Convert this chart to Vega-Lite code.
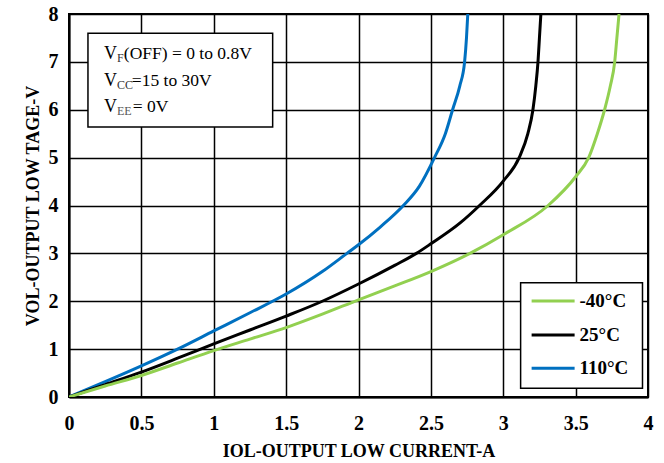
{
  "$schema": "https://vega.github.io/schema/vega-lite/v6.json",
  "width": 579,
  "height": 383,
  "autosize": {"type": "none"},
  "padding": {"left": 69, "top": 14, "right": 16, "bottom": 66},
  "background": "white",
  "config": {
    "font": "Liberation Serif",
    "view": {"stroke": "black", "strokeWidth": 2},
    "axis": {
      "grid": true, "gridColor": "black", "gridWidth": 1.5, "gridOpacity": 1,
      "domainColor": "black", "domainWidth": 2, "ticks": false,
      "labelFont": "Liberation Serif", "labelFontWeight": "bold", "labelFontSize": 20, "labelColor": "black",
      "titleFont": "Liberation Serif", "titleFontWeight": "bold", "titleFontSize": 18, "titleColor": "black"
    }
  },
  "datasets": {
    "curves": [
      {"I": 0, "V": 0, "T": "110°C"}, {"I": 0.25, "V": 0.32, "T": "110°C"}, {"I": 0.5, "V": 0.65, "T": "110°C"},
      {"I": 0.75, "V": 1.0, "T": "110°C"}, {"I": 1.0, "V": 1.38, "T": "110°C"}, {"I": 1.25, "V": 1.76, "T": "110°C"},
      {"I": 1.5, "V": 2.15, "T": "110°C"}, {"I": 1.75, "V": 2.62, "T": "110°C"}, {"I": 1.92, "V": 3.0, "T": "110°C"},
      {"I": 2.0, "V": 3.18, "T": "110°C"}, {"I": 2.15, "V": 3.55, "T": "110°C"}, {"I": 2.31, "V": 4.0, "T": "110°C"},
      {"I": 2.42, "V": 4.4, "T": "110°C"}, {"I": 2.525, "V": 5.0, "T": "110°C"}, {"I": 2.6, "V": 5.5, "T": "110°C"},
      {"I": 2.65, "V": 6.0, "T": "110°C"}, {"I": 2.7, "V": 6.5, "T": "110°C"}, {"I": 2.733, "V": 7.0, "T": "110°C"},
      {"I": 2.746, "V": 7.5, "T": "110°C"}, {"I": 2.755, "V": 8.0, "T": "110°C"},
      {"I": 0, "V": 0, "T": "25°C"}, {"I": 0.25, "V": 0.26, "T": "25°C"}, {"I": 0.5, "V": 0.52, "T": "25°C"},
      {"I": 0.75, "V": 0.81, "T": "25°C"}, {"I": 1.0, "V": 1.11, "T": "25°C"}, {"I": 1.25, "V": 1.40, "T": "25°C"},
      {"I": 1.5, "V": 1.69, "T": "25°C"}, {"I": 1.75, "V": 2.0, "T": "25°C"}, {"I": 2.0, "V": 2.36, "T": "25°C"},
      {"I": 2.25, "V": 2.75, "T": "25°C"}, {"I": 2.4, "V": 3.0, "T": "25°C"}, {"I": 2.5, "V": 3.2, "T": "25°C"},
      {"I": 2.7, "V": 3.63, "T": "25°C"}, {"I": 2.836, "V": 4.0, "T": "25°C"}, {"I": 3.0, "V": 4.51, "T": "25°C"},
      {"I": 3.11, "V": 5.0, "T": "25°C"}, {"I": 3.17, "V": 5.5, "T": "25°C"}, {"I": 3.205, "V": 6.0, "T": "25°C"},
      {"I": 3.225, "V": 6.5, "T": "25°C"}, {"I": 3.24, "V": 7.0, "T": "25°C"}, {"I": 3.25, "V": 7.5, "T": "25°C"},
      {"I": 3.26, "V": 8.0, "T": "25°C"},
      {"I": 0, "V": 0, "T": "-40°C"}, {"I": 0.25, "V": 0.23, "T": "-40°C"}, {"I": 0.5, "V": 0.45, "T": "-40°C"},
      {"I": 0.75, "V": 0.71, "T": "-40°C"}, {"I": 1.0, "V": 0.97, "T": "-40°C"}, {"I": 1.25, "V": 1.21, "T": "-40°C"},
      {"I": 1.5, "V": 1.45, "T": "-40°C"}, {"I": 1.75, "V": 1.73, "T": "-40°C"}, {"I": 2.0, "V": 2.03, "T": "-40°C"},
      {"I": 2.25, "V": 2.32, "T": "-40°C"}, {"I": 2.5, "V": 2.62, "T": "-40°C"}, {"I": 2.77, "V": 3.0, "T": "-40°C"},
      {"I": 3.0, "V": 3.39, "T": "-40°C"}, {"I": 3.31, "V": 4.0, "T": "-40°C"}, {"I": 3.5, "V": 4.6, "T": "-40°C"},
      {"I": 3.59, "V": 5.0, "T": "-40°C"}, {"I": 3.65, "V": 5.5, "T": "-40°C"}, {"I": 3.70, "V": 6.0, "T": "-40°C"},
      {"I": 3.74, "V": 6.5, "T": "-40°C"}, {"I": 3.77, "V": 7.0, "T": "-40°C"}, {"I": 3.785, "V": 7.5, "T": "-40°C"},
      {"I": 3.80, "V": 8.0, "T": "-40°C"}
    ],
    "one": [{}]
  },
  "layer": [
    {
      "data": {"name": "curves"},
      "mark": {"type": "line", "strokeWidth": 3, "interpolate": "monotone", "clip": true},
      "encoding": {
        "x": {
          "field": "I", "type": "quantitative",
          "scale": {"domain": [0, 4], "nice": false},
          "axis": {"values": [0, 0.5, 1, 1.5, 2, 2.5, 3, 3.5, 4], "labelExpr": "datum.value + ''",
                   "labelPadding": 16, "titlePadding": 9, "title": "IOL-OUTPUT LOW CURRENT-A", "labelFlush": false}
        },
        "y": {
          "field": "V", "type": "quantitative",
          "scale": {"domain": [0, 8], "nice": false},
          "axis": {"values": [0, 1, 2, 3, 4, 5, 6, 7, 8], "labelPadding": 11, "titlePadding": 6,
                   "title": "VOL-OUTPUT LOW TAGE-V", "labelFlush": false}
        },
        "color": {
          "field": "T", "type": "nominal",
          "scale": {"domain": ["-40°C", "25°C", "110°C"], "range": ["#92D050", "#000000", "#0070C0"]},
          "legend": null
        },
        "detail": {"field": "T"}
      }
    },
    {
      "data": {"name": "one"},
      "mark": {"type": "rect", "fill": "white", "stroke": "black", "strokeWidth": 1.5},
      "encoding": {
        "x": {"datum": 0.131, "type": "quantitative"}, "x2": {"datum": 1.407},
        "y": {"datum": 7.6, "type": "quantitative"}, "y2": {"datum": 5.64}
      }
    },
    {
      "data": {"name": "one"},
      "mark": {"type": "text", "align": "left", "baseline": "alphabetic", "fontSize": 18, "font": "Liberation Serif", "color": "black", "text": "V"},
      "encoding": {"x": {"datum": 0.241, "type": "quantitative"}, "y": {"datum": 7.06, "type": "quantitative"}}
    },
    {
      "data": {"name": "one"},
      "mark": {"type": "text", "align": "left", "baseline": "alphabetic", "fontSize": 12, "font": "Liberation Serif", "color": "#333333", "text": "F"},
      "encoding": {"x": {"datum": 0.331, "type": "quantitative"}, "y": {"datum": 7.0, "type": "quantitative"}}
    },
    {
      "data": {"name": "one"},
      "mark": {"type": "text", "align": "left", "baseline": "alphabetic", "fontSize": 17.5, "font": "Liberation Serif", "color": "black", "text": "(OFF) = 0 to 0.8V"},
      "encoding": {"x": {"datum": 0.379, "type": "quantitative"}, "y": {"datum": 7.06, "type": "quantitative"}}
    },
    {
      "data": {"name": "one"},
      "mark": {"type": "text", "align": "left", "baseline": "alphabetic", "fontSize": 18, "font": "Liberation Serif", "color": "black", "text": "V"},
      "encoding": {"x": {"datum": 0.241, "type": "quantitative"}, "y": {"datum": 6.5, "type": "quantitative"}}
    },
    {
      "data": {"name": "one"},
      "mark": {"type": "text", "align": "left", "baseline": "alphabetic", "fontSize": 12, "font": "Liberation Serif", "color": "#333333", "text": "CC"},
      "encoding": {"x": {"datum": 0.331, "type": "quantitative"}, "y": {"datum": 6.43, "type": "quantitative"}}
    },
    {
      "data": {"name": "one"},
      "mark": {"type": "text", "align": "left", "baseline": "alphabetic", "fontSize": 17.5, "font": "Liberation Serif", "color": "black", "text": "=15 to 30V"},
      "encoding": {"x": {"datum": 0.434, "type": "quantitative"}, "y": {"datum": 6.5, "type": "quantitative"}}
    },
    {
      "data": {"name": "one"},
      "mark": {"type": "text", "align": "left", "baseline": "alphabetic", "fontSize": 18, "font": "Liberation Serif", "color": "black", "text": "V"},
      "encoding": {"x": {"datum": 0.241, "type": "quantitative"}, "y": {"datum": 5.95, "type": "quantitative"}}
    },
    {
      "data": {"name": "one"},
      "mark": {"type": "text", "align": "left", "baseline": "alphabetic", "fontSize": 12, "font": "Liberation Serif", "color": "#555555", "text": "EE"},
      "encoding": {"x": {"datum": 0.331, "type": "quantitative"}, "y": {"datum": 5.89, "type": "quantitative"}}
    },
    {
      "data": {"name": "one"},
      "mark": {"type": "text", "align": "left", "baseline": "alphabetic", "fontSize": 17.5, "font": "Liberation Serif", "color": "black", "text": "= 0V"},
      "encoding": {"x": {"datum": 0.441, "type": "quantitative"}, "y": {"datum": 5.95, "type": "quantitative"}}
    },
    {
      "data": {"name": "one"},
      "mark": {"type": "rect", "fill": "white", "stroke": "black", "strokeWidth": 1.5},
      "encoding": {
        "x": {"datum": 3.12, "type": "quantitative"}, "x2": {"datum": 3.962},
        "y": {"datum": 2.384, "type": "quantitative"}, "y2": {"datum": 0.182}
      }
    },
    {
      "data": {"name": "one"},
      "mark": {"type": "rule", "strokeWidth": 3},
      "encoding": {
        "x": {"datum": 3.196, "type": "quantitative"}, "x2": {"datum": 3.493},
        "y": {"datum": 2.006, "type": "quantitative"},
        "color": {"datum": "-40°C", "type": "nominal"}
      }
    },
    {
      "data": {"name": "one"},
      "mark": {"type": "rule", "strokeWidth": 3},
      "encoding": {
        "x": {"datum": 3.196, "type": "quantitative"}, "x2": {"datum": 3.493},
        "y": {"datum": 1.294, "type": "quantitative"},
        "color": {"datum": "25°C", "type": "nominal"}
      }
    },
    {
      "data": {"name": "one"},
      "mark": {"type": "rule", "strokeWidth": 3},
      "encoding": {
        "x": {"datum": 3.196, "type": "quantitative"}, "x2": {"datum": 3.493},
        "y": {"datum": 0.602, "type": "quantitative"},
        "color": {"datum": "110°C", "type": "nominal"}
      }
    },
    {
      "data": {"name": "one"},
      "mark": {"type": "text", "align": "left", "baseline": "middle", "fontSize": 19, "fontWeight": "bold", "font": "Liberation Serif", "color": "black"},
      "encoding": {
        "x": {"datum": 3.527, "type": "quantitative"}, "y": {"datum": 2.006, "type": "quantitative"},
        "text": {"datum": "-40°C"}
      }
    },
    {
      "data": {"name": "one"},
      "mark": {"type": "text", "align": "left", "baseline": "middle", "fontSize": 19, "fontWeight": "bold", "font": "Liberation Serif", "color": "black"},
      "encoding": {
        "x": {"datum": 3.527, "type": "quantitative"}, "y": {"datum": 1.294, "type": "quantitative"},
        "text": {"datum": "25°C"}
      }
    },
    {
      "data": {"name": "one"},
      "mark": {"type": "text", "align": "left", "baseline": "middle", "fontSize": 19, "fontWeight": "bold", "font": "Liberation Serif", "color": "black"},
      "encoding": {
        "x": {"datum": 3.527, "type": "quantitative"}, "y": {"datum": 0.602, "type": "quantitative"},
        "text": {"datum": "110°C"}
      }
    }
  ]
}
